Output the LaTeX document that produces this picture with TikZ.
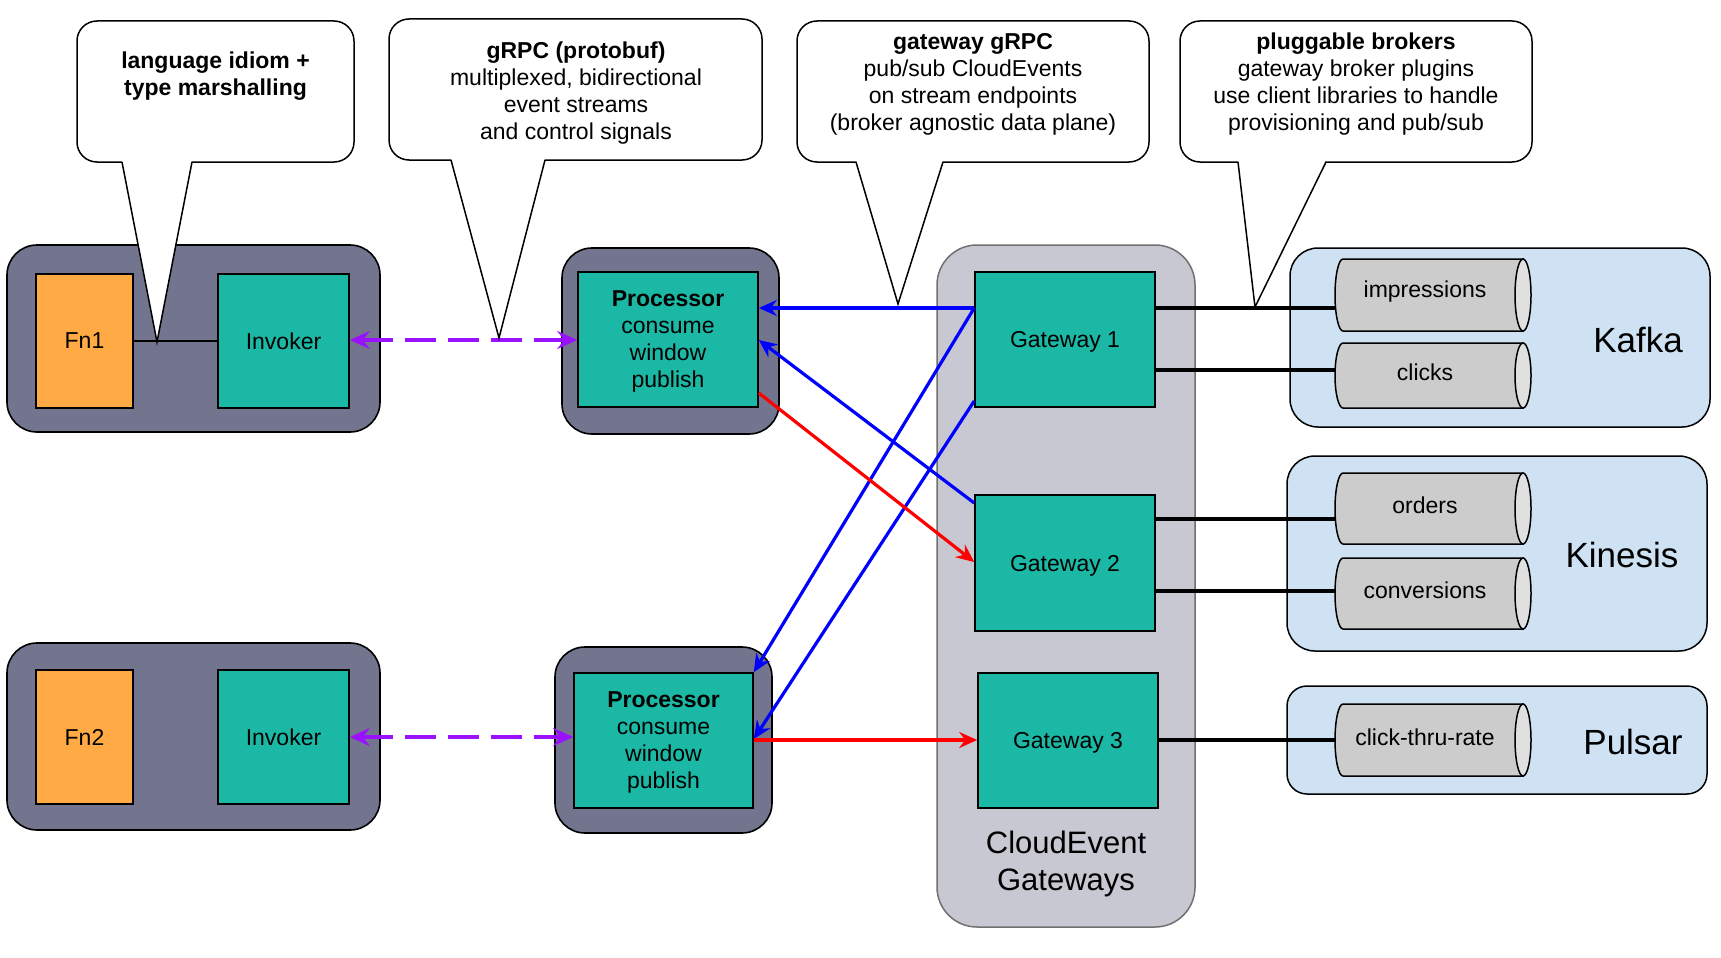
\documentclass[tikz,border=0pt]{standalone}
\usepackage{fontspec}
\setmainfont{Liberation Sans}
\usetikzlibrary{arrows.meta}
\definecolor{tealbx}{RGB}{27,185,165}
\definecolor{orangebx}{RGB}{255,170,68}
\definecolor{contfill}{RGB}{115,116,142}
\definecolor{gwfill}{RGB}{200,200,211}
\definecolor{gwborder}{RGB}{112,112,112}
\definecolor{lblue}{RGB}{207,226,243}
\definecolor{cylfill}{RGB}{204,204,204}
\definecolor{capfill}{RGB}{224,224,224}
\definecolor{purp}{RGB}{153,17,255}
\newcommand\mycyl[6]{% name, ytop, ybot, cy, ry, text
  \path[cylbody] (1523,#2) -- (1343,#2) arc[start angle=270,end angle=90,x radius=8,y radius=#5] -- (1523,#3) -- cycle;
  \path[cylcap] (1523,#4) ellipse[x radius=8,y radius=#5];
  \node[cyltext,minimum height={2*#5}] (#1) at (1425,#4-3) {#6};
}
\begin{document}
\begin{tikzpicture}[x=1pt,y=-1pt,
  txt/.style={font=\fontsize{23}{27}\selectfont, align=center, text=black},
  lowtext/.style={text depth=-2pt},
  container/.style={draw=black, line width=1.6pt, fill=contfill, rounded corners=30pt, inner sep=0pt},
  fnbox/.style={txt, draw=black, line width=1.6pt, fill=orangebx, inner sep=0pt},
  tealbox/.style={txt, draw=black, line width=1.6pt, fill=tealbx, inner sep=0pt},
  gwcont/.style={draw=gwborder, line width=1.5pt, fill=gwfill, rounded corners=40pt, inner sep=0pt},
  broker/.style={draw=black, line width=1.5pt, fill=lblue, rounded corners=28pt, inner sep=0pt},
  bigtxt/.style={font=\fontsize{35}{40}\selectfont, text=black},
  cylbody/.style={draw=black, line width=1.5pt, fill=cylfill},
  cylcap/.style={draw=black, line width=1.5pt, fill=capfill},
  cyltext/.style={txt, minimum width=180pt, inner sep=0pt},
  callout/.style={draw=black, line width=1.5pt, fill=white, rounded corners=20pt, inner sep=0pt},
  tail/.style={draw=black, line width=1.5pt},
  brokerline/.style={draw=black, line width=4pt},
  thinline/.style={draw=black, line width=2pt},
  bluearrow/.style={draw=blue, line width=3.2pt, -{Stealth[length=18pt,width=16pt,inset=6pt]}},
  redarrow/.style={draw=red, line width=3.2pt, -{Stealth[length=18pt,width=16pt,inset=6pt]}},
  purparrow/.style={draw=purp, line width=4pt, dash pattern=on 31pt off 12pt,
     {Stealth[length=20pt,width=18pt,inset=7pt]}-{Stealth[length=20pt,width=18pt,inset=7pt]}}
]
\useasboundingbox (0,0) rectangle (1721,958);

% containers
\node[container, minimum width=373pt, minimum height=187pt] (out1) at (193.5,338.5) {};
\node[container, minimum width=373pt, minimum height=187pt] (out2) at (193.5,736.5) {};
\node[container, minimum width=217pt, minimum height=186pt] (pout1) at (670.5,341) {};
\node[container, minimum width=217pt, minimum height=186pt] (pout2) at (663.5,740) {};
\node[gwcont, minimum width=258pt, minimum height=682pt] (gwc) at (1066,586) {};
\node[broker, minimum width=420pt, minimum height=179pt] (kafka) at (1500,337.5) {};
\node[broker, minimum width=420pt, minimum height=195pt] (kinesis) at (1497,553.5) {};
\node[broker, minimum width=420pt, minimum height=108pt, rounded corners=20pt] (pulsar) at (1497,740) {};

% labels of containers
\node[bigtxt] (kafkal) at (1638,340) {Kafka};
\node[bigtxt] (kinesisl) at (1622,555) {Kinesis};
\node[bigtxt] (pulsarl) at (1633,742) {Pulsar};
\node[font=\fontsize{31}{37}\selectfont, align=center] (gwcl) at (1066,864) {CloudEvent\\Gateways};

% inner boxes
\node[fnbox, minimum width=97pt, minimum height=134pt] (fn1) at (84.5,341) {Fn1};
\node[tealbox, minimum width=131pt, minimum height=134pt] (inv1) at (283.5,341) {Invoker};
\node[fnbox, minimum width=97pt, minimum height=134pt] (fn2) at (84.5,737) {Fn2};
\node[tealbox, minimum width=131pt, minimum height=134pt] (inv2) at (283.5,737) {Invoker};
\node[tealbox, lowtext, minimum width=180pt, minimum height=135pt] (proc1) at (668,339.5) {\textbf{Processor}\\consume\\window\\publish};
\node[tealbox, lowtext, minimum width=179pt, minimum height=135pt] (proc2) at (663.5,740.5) {\textbf{Processor}\\consume\\window\\publish};
\node[tealbox, lowtext, minimum width=180pt, minimum height=135pt] (g1) at (1065,339.5) {Gateway 1};
\node[tealbox, lowtext, minimum width=180pt, minimum height=136pt] (g2) at (1065,563) {Gateway 2};
\node[tealbox, lowtext, minimum width=180pt, minimum height=135pt] (g3) at (1068,740.5) {Gateway 3};

% cylinders
\mycyl{imp}{259}{331}{295}{36}{impressions}
\mycyl{clk}{343}{408}{375.5}{32.5}{clicks}
\mycyl{ord}{473}{544}{508.5}{35.5}{orders}
\mycyl{conv}{558}{629}{593.5}{35.5}{conversions}
\mycyl{ctr}{704}{776}{740}{36}{click-thru-rate}

% broker lines
\draw[brokerline] (g1.east |- 0,308) -- (imp.west |- 0,308);
\draw[brokerline] (g1.east |- 0,370) -- (clk.west |- 0,370);
\draw[brokerline] (g2.east |- 0,519) -- (ord.west |- 0,519);
\draw[brokerline] (g2.east |- 0,591) -- (conv.west |- 0,591);
\draw[brokerline] (g3.east |- 0,740) -- (ctr.west |- 0,740);

% fn - invoker
\draw[thinline] (fn1.east) -- (inv1.west);

% purple dashed
\draw[purparrow] (inv1.east |- 0,340) -- (proc1.west |- 0,340);
\draw[purparrow] (inv2.east |- 0,737) -- (proc2.west |- 0,737);

% blue and red
\draw[bluearrow] (g1.west |- 0,308) -- (proc1.east |- 0,308);
\draw[bluearrow] (g1.west |- 0,308) -- (proc2.north east);
\draw[bluearrow] (g1.west |- 0,401) -- (proc2.east |- 0,739);
\draw[bluearrow] (g2.west |- 0,503) -- (proc1.east |- 0,340);
\draw[redarrow] (proc1.east |- 0,393) -- (g2.west |- 0,562);
\draw[redarrow] (proc2.east |- 0,740) -- (g3.west |- 0,740);

% callouts
\node[callout, minimum width=277pt, minimum height=141pt] (c1) at (215.5,91.5) {};
\node[callout, minimum width=373pt, minimum height=141pt] (c2) at (575.5,89.5) {};
\node[callout, minimum width=352pt, minimum height=141pt] (c3) at (973,91.5) {};
\node[callout, minimum width=352pt, minimum height=141pt] (c4) at (1356,91.5) {};

\fill[white] (122,160) -- (157,342) -- (192,160) -- cycle;
\draw[tail] (122,162) -- (157,342) -- (192,162);
\fill[white] (451,158) -- (499,338) -- (545,158) -- cycle;
\draw[tail] (451,160) -- (499,338) -- (545,160);
\fill[white] (856,160) -- (898,304) -- (943,160) -- cycle;
\draw[tail] (856,162) -- (898,304) -- (943,162);
\fill[white] (1238,160) -- (1255,307) -- (1326,160) -- cycle;
\draw[tail] (1238,162) -- (1255,307) -- (1326,162);

\node[txt, font=\fontsize{23}{27}\selectfont\bfseries] (c1t) at (215.5,76) {language idiom +\\type marshalling};
\node[txt] (c2t) at (576,93) {\textbf{gRPC (protobuf)}\\multiplexed, bidirectional\\event streams\\and control signals};
\node[txt] (c3t) at (973,84) {\textbf{gateway gRPC}\\pub/sub CloudEvents\\on stream endpoints\\(broker agnostic data plane)};
\node[txt] (c4t) at (1356,84) {\textbf{pluggable brokers}\\gateway broker plugins\\use client libraries to handle\\provisioning and pub/sub};
\end{tikzpicture}
\end{document}
